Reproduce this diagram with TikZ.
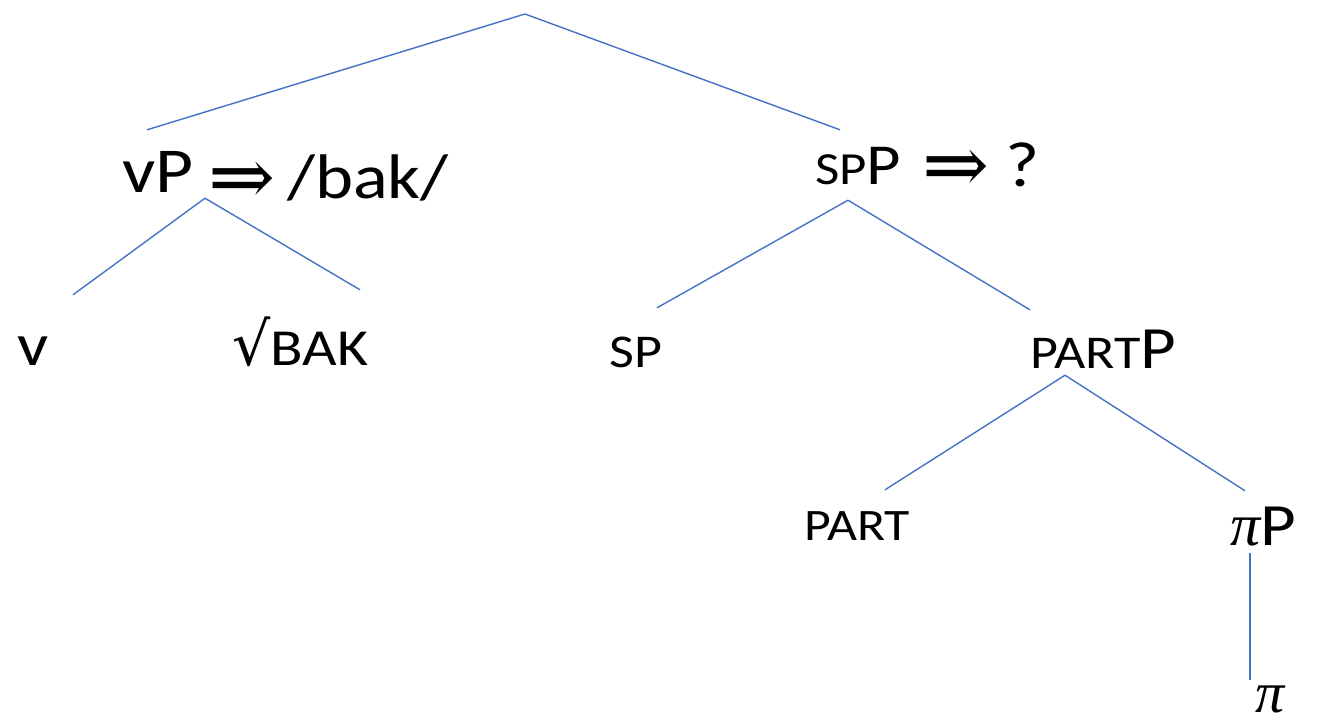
\documentclass[tikz,border=0pt]{standalone}
\usepackage{fontspec}
\setmainfont{Carlito}[FakeStretch=1.15]
\newfontfamily\arrowfont{DejaVu Serif}
\newfontfamily\rootfont{DejaVu Sans}
\newfontfamily\greekfont{Liberation Serif}
\definecolor{treeblue}{RGB}{68,114,196}
\newcommand{\fsz}[1]{\fontsize{#1pt}{#1pt}\selectfont}
\newcommand{\smcap}[1]{{\fsz{46}#1}}
\newcommand{\darrow}{\raisebox{-6pt}{\arrowfont\fsz{80}⇒}}
\newcommand{\gpi}{{\greekfont\itshape π}}

\begin{document}
\begin{tikzpicture}[x=1pt, y=-1pt,
    cat/.style={inner sep=0pt, anchor=base west, text height=54pt, text depth=10pt, font=\fsz{47}},
    branch/.style={draw=treeblue, line width=1.4pt}]
  \useasboundingbox (0,0) rectangle (1318,724);
  \coordinate (root) at (525,14);

  \node[cat, font=\fsz{64}] (vP) at (122,192) {vP};
  \node[cat, font=\fsz{63}] (vPout) at (208,198) {\darrow\hspace{12pt}/bak/};
  \node[cat, font=\fsz{58}] (spP) at (815,184) {\smcap{SP}P};
  \node[cat, font=\fsz{64}] (spPout) at (922,186) {\darrow\hspace{16pt}?};

  \node[cat, font=\fsz{60}] (v) at (17,365) {v};
  \node[cat, font=\fsz{52}] (bak) at (232,365) {{\rootfont\fsz{60}√}BAK};
  \node[cat] (sp) at (609,367) {SP};
  \node[cat] (partP) at (1030,368) {PART{\fsz{60}P}};

  \node[cat, font=\fsz{45}] (part) at (804,540) {PART};
  \node[cat, font=\fsz{60}] (piP) at (1230,545) {\gpi P};

  \node[cat, font=\fsz{58}, text depth=2pt] (pi) at (1255,712) {\gpi};

  \draw[branch] (root) -- ([xshift=25pt, yshift=8pt]vP.north west);
  \draw[branch] (root) -- ([xshift=25pt]spP.north west);

  \draw[branch] ([xshift=83pt, yshift=4pt]vP.south west) -- ([xshift=56pt, yshift=16pt]v.north west);
  \draw[branch] ([xshift=83pt, yshift=4pt]vP.south west) -- ([xshift=128pt, yshift=21pt]bak.north west);

  \draw[branch] ([xshift=33pt, yshift=-6pt]spP.south west) -- ([xshift=48pt, yshift=5pt]sp.north west);
  \draw[branch] ([xshift=33pt, yshift=-6pt]spP.south west) -- ([yshift=4pt]partP.north west);

  \draw[branch] ([xshift=35pt, yshift=3pt]partP.south west) -- ([xshift=81pt, yshift=-4pt]part.north west);
  \draw[branch] ([xshift=35pt, yshift=3pt]partP.south west) -- ([xshift=15pt]piP.north west);

  \draw[branch] ([xshift=20pt, yshift=2pt]piP.south west) -- ([xshift=-5pt, yshift=-22pt]pi.north west);
\end{tikzpicture}
\end{document}
